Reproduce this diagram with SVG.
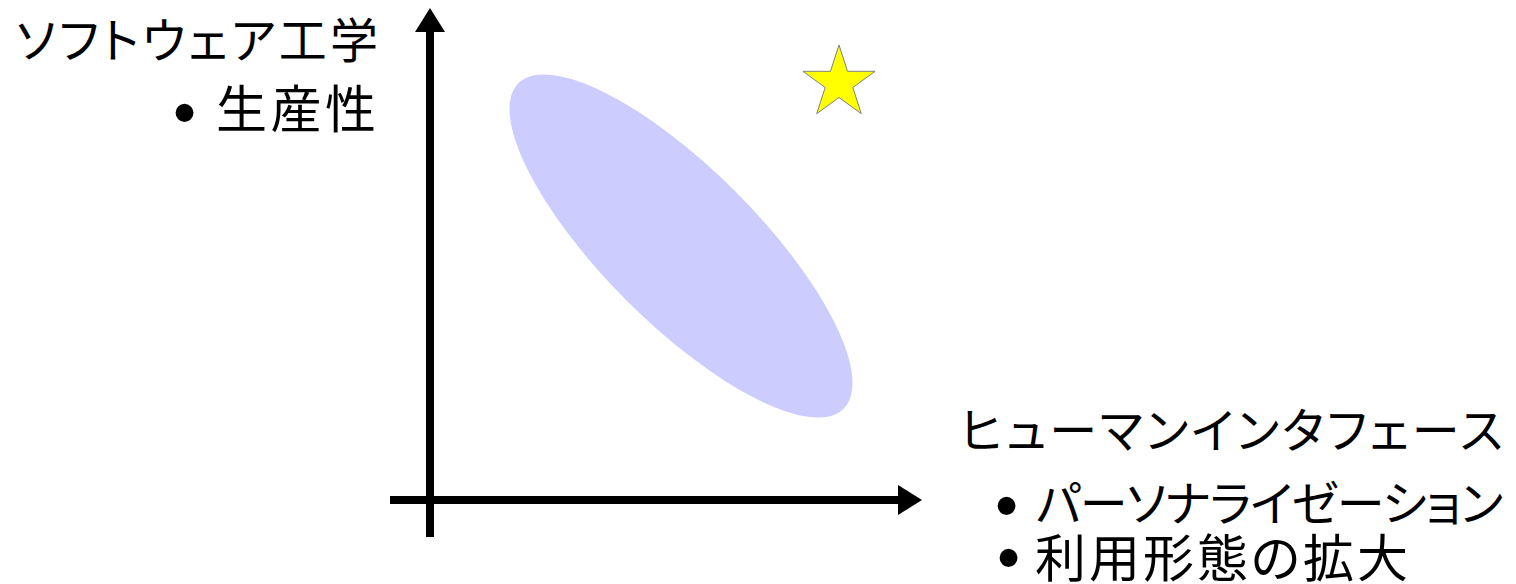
<svg xmlns="http://www.w3.org/2000/svg" width="1516" height="584" viewBox="0 0 1516 584">
  <style>
    .lbl { font-family: "Noto Sans CJK JP", "Noto Sans", sans-serif; font-size: 48px; fill: #000; font-feature-settings: "palt"; }
    .kanji { font-size: 51px; }
    .bul { font-family: "Liberation Sans", Arial, sans-serif; font-size: 66px; fill: #000; }
    .axis { stroke: #000; stroke-width: 8; fill: none; }
  </style>
  <defs>
    <marker id="arrow" markerUnits="userSpaceOnUse" markerWidth="24" markerHeight="30" refX="0" refY="15" orient="auto" overflow="visible">
      <path d="M0,0 L24,15 L0,30 Z" fill="#000"/>
    </marker>
  </defs>
  <rect width="1516" height="584" fill="#fff"/>

  <g id="region">
    <ellipse cx="681" cy="246" rx="230" ry="77" transform="rotate(45 681 246)" fill="#CCCCFF"/>
  </g>

  <g id="star">
    <polygon points="839,45 847.5,71.3 875.1,71.3 852.8,87.5 861.3,113.7 839,97.5 816.7,113.7 825.2,87.5 802.9,71.3 830.5,71.3" fill="#FFFF00" stroke="#808080" stroke-width="1"/>
  </g>

  <g id="connectors">
    <line class="axis" x1="430" y1="537" x2="430" y2="32" marker-end="url(#arrow)"/>
    <line class="axis" x1="390" y1="500" x2="898" y2="500" marker-end="url(#arrow)"/>
  </g>

  <g id="y-label">
    <text class="lbl" x="16" y="58" textLength="362" lengthAdjust="spacing">ソフトウェア工学</text>
    <text class="bul" x="173" y="135">•</text>
    <text class="lbl kanji" x="216" y="128" textLength="160" lengthAdjust="spacing">生産性</text>
  </g>

  <g id="x-label">
    <text class="lbl" x="960" y="448" textLength="543" lengthAdjust="spacing">ヒューマンインタフェース</text>
    <text class="bul" x="995" y="528">•</text>
    <text class="lbl" x="1036" y="521" textLength="467" lengthAdjust="spacing">パーソナライゼーション</text>
    <text class="bul" x="997" y="580">•</text>
    <text class="lbl kanji" x="1035" y="577" textLength="373" lengthAdjust="spacing">利用形態の拡大</text>
  </g>
</svg>
